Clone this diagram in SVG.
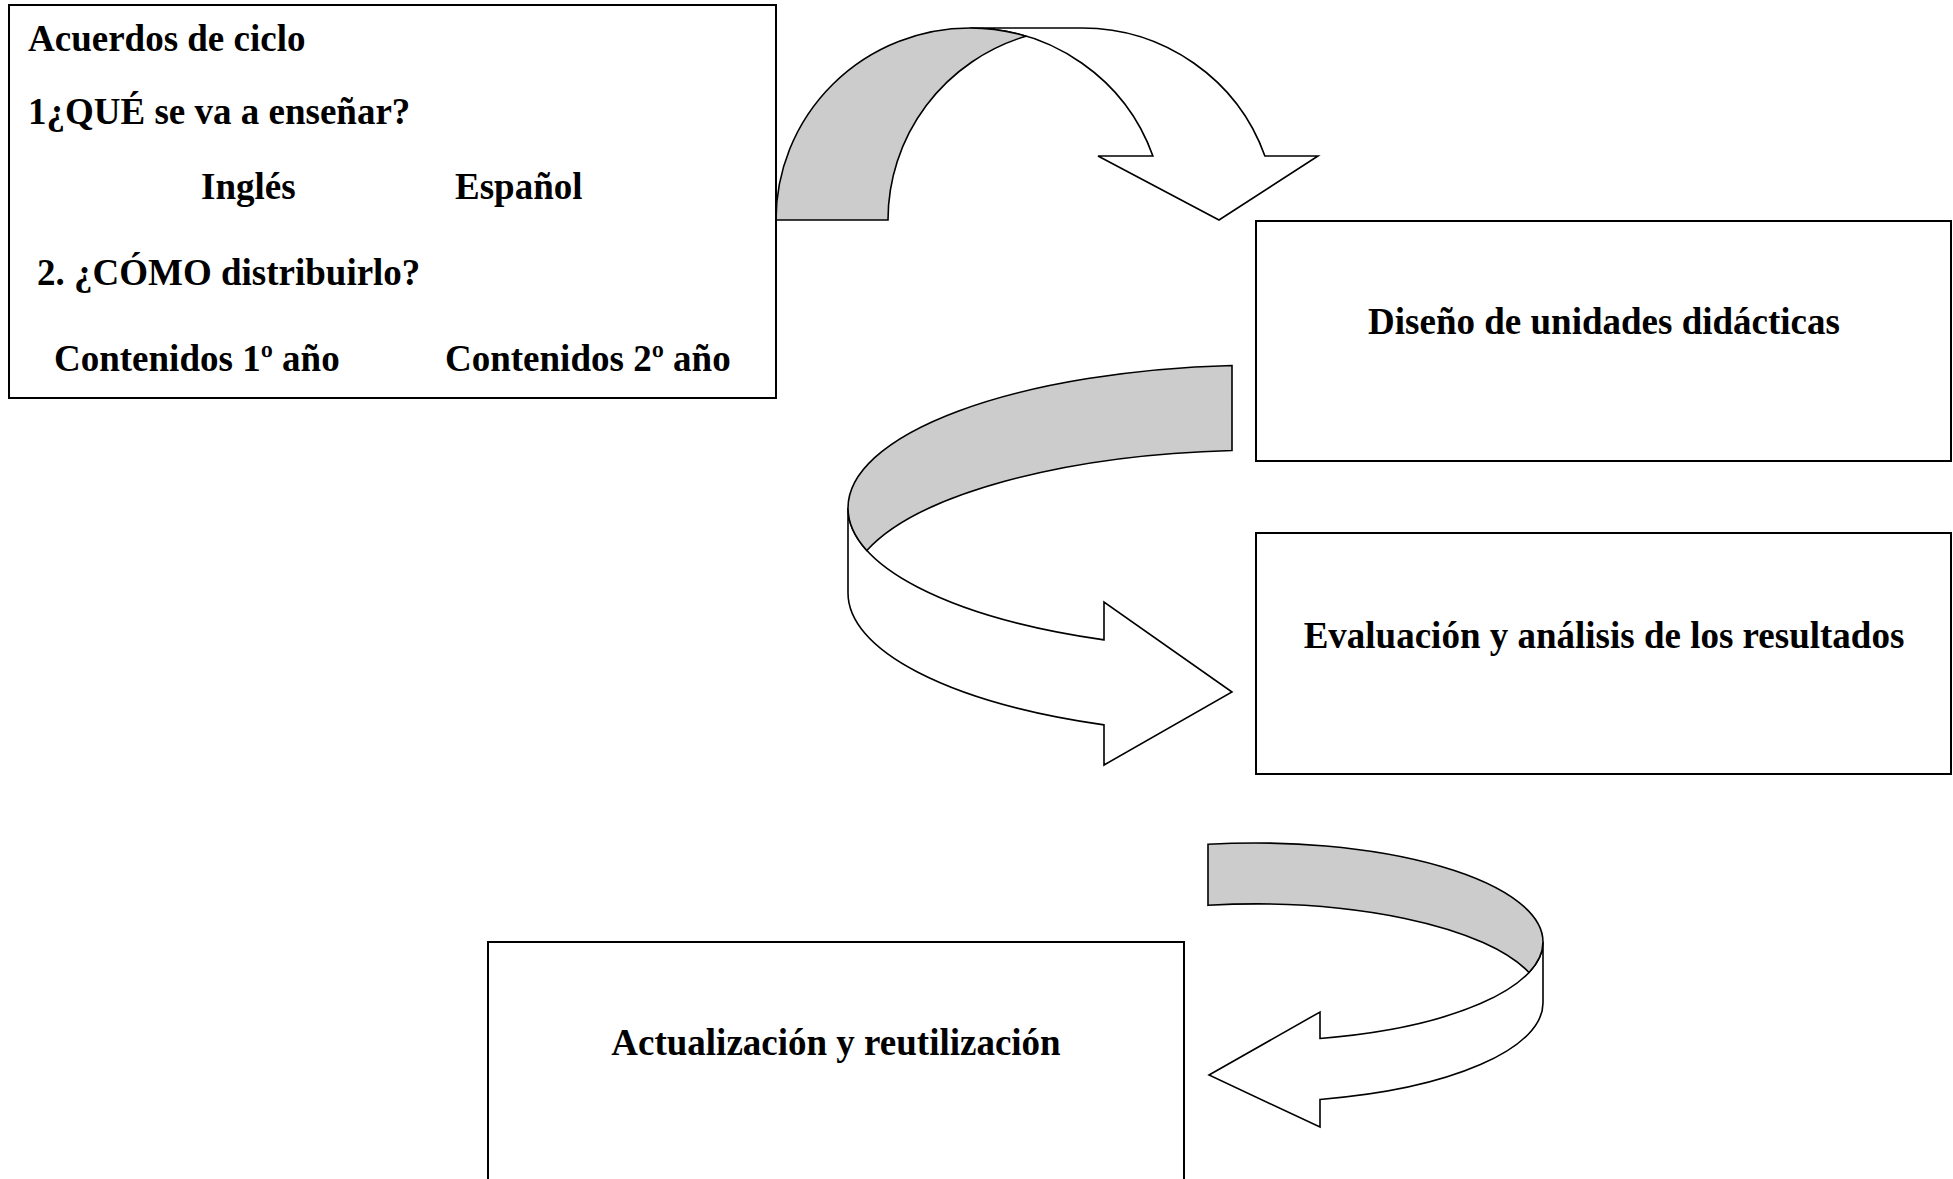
<svg xmlns="http://www.w3.org/2000/svg" width="1953" height="1179" viewBox="0 0 1953 1179">
<style>
.box{fill:#ffffff;stroke:#000000;stroke-width:2}
.t{font-family:"Liberation Serif","Times New Roman",serif;font-weight:bold;font-size:37px;fill:#000000}
.c{text-anchor:middle}
.grey{fill:#cccccc;stroke:#000000;stroke-width:1.6;stroke-linejoin:miter}
.white{fill:#ffffff;stroke:#000000;stroke-width:1.6;stroke-linejoin:miter}
</style>
<rect x="0" y="0" width="1953" height="1179" fill="#ffffff"/>
<g id="connectors">
  <g id="arrow1">
    <path class="white" d="M 970 28 L 1082 28 A 194 192 0 0 1 1264.9 156 L 1318 156 L 1219 220 L 1098 156 L 1152.9 156 A 194 192 0 0 0 970 28 Z"/>
    <path class="grey" d="M 776 220 A 194 192 0 0 1 970 28 A 194 192 0 0 1 1026 36.2 A 194 192 0 0 0 888 220 Z"/>
  </g>
  <g id="arrow2">
    <path class="white" d="M 848 508 L 848 593 A 417 143 0 0 0 1104 724.9 L 1104 765 L 1232 692 L 1104 602 L 1104 639.9 A 417 143 0 0 1 848 508 Z"/>
    <path class="grey" d="M 1232 365.45 A 417 143 0 0 0 848 508 A 417 143 0 0 0 866.8 550.5 A 417 143 0 0 1 1232 450.45 Z"/>
  </g>
  <g id="arrow3">
    <path class="white" d="M 1543 942 L 1543 1003 A 288 99 0 0 1 1320 1099.45 L 1320 1127 L 1209 1075 L 1320 1012 L 1320 1038.45 A 288 99 0 0 0 1543 942 Z"/>
    <path class="grey" d="M 1208 844.3 A 288 99 0 0 1 1543 942 A 288 99 0 0 1 1529 972.5 A 288 99 0 0 0 1208 905.3 Z"/>
  </g>
</g>
<g id="node-acuerdos">
  <rect class="box" x="9" y="5" width="767" height="393"/>
  <text class="t" x="28" y="51">Acuerdos de ciclo</text>
  <text class="t" x="28" y="124">1¿QUÉ se va a enseñar?</text>
  <text class="t" x="201" y="199">Inglés</text>
  <text class="t" x="455" y="199">Español</text>
  <text class="t" x="37" y="285">2. ¿CÓMO distribuirlo?</text>
  <text class="t" x="54" y="371">Contenidos 1º año</text>
  <text class="t" x="445" y="371">Contenidos 2º año</text>
</g>
<g id="node-diseno">
  <rect class="box" x="1256" y="221" width="695" height="240"/>
  <text class="t c" x="1604" y="334">Diseño de unidades didácticas</text>
</g>
<g id="node-evaluacion">
  <rect class="box" x="1256" y="533" width="695" height="241"/>
  <text class="t c" x="1604" y="648">Evaluación y análisis de los resultados</text>
</g>
<g id="node-actualizacion">
  <rect class="box" x="488" y="942" width="696" height="260"/>
  <text class="t c" x="836" y="1055">Actualización y reutilización</text>
</g>
</svg>
